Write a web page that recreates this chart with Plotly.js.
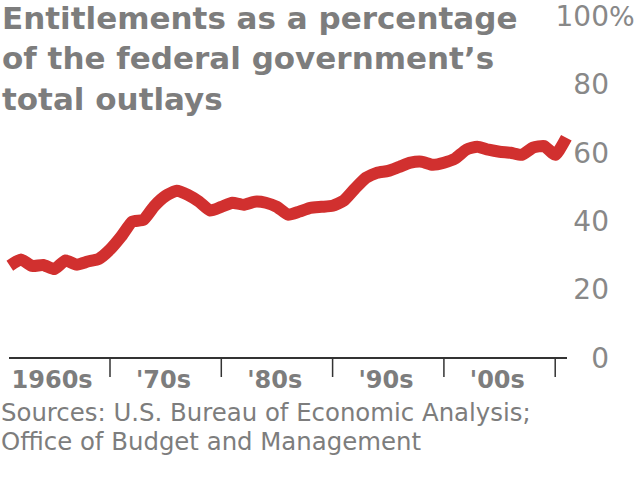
<!DOCTYPE html>
<html><head><meta charset="utf-8">
<script src="https://cdn.plot.ly/plotly-3.0.1.min.js"></script>
<style>html,body{margin:0;padding:0;background:#fff}#chart{width:641px;height:484px}</style>
</head><body><div id="chart"></div>
<script>
const years = [1961,1962,1963,1964,1965,1966,1967,1968,1969,1970,
  1971,1972,1973,1974,1975,1976,1977,1978,1979,1980,
  1981,1982,1983,1984,1985,1986,1987,1988,1989,1990,
  1991,1992,1993,1994,1995,1996,1997,1998,1999,2000,
  2001,2002,2003,2004,2005,2006,2007,2008,2009,2010,2011];
const share = [27.0,28.8,26.9,27.2,26.0,28.5,27.3,28.2,29.0,31.7,
  35.5,39.9,40.4,44.5,47.4,48.9,47.7,45.7,43.1,44.2,
  45.4,44.8,45.7,45.4,44.2,41.9,42.8,43.9,44.2,44.5,
  46.0,49.5,52.7,54.2,54.7,55.9,57.1,57.4,56.5,57.1,
  58.3,60.9,61.8,60.9,60.3,60.0,59.4,61.5,62.0,59.4,64.4];
const decadeTicks = [1970,1980,1990,2000,2010];
const decadeLabelPos = [1964.8,1974.8,1984.8,1994.8,2004.8];
const decadeLabels = ['1960s',"'70s","'80s","'90s","'00s"];
const yTicks = [0,20,40,60,80,100];
const yLabels = ['0','20','40','60','80','100'];
const titleText = 'Entitlements as a percentage<br>of the federal government\u2019s<br>total outlays';
const source1 = 'Sources: U.S. Bureau of Economic Analysis;';
const source2 = 'Office of Budget and Management';

(function () {
const W = 641, H = 484, plotTop = 16, plotBottom = 358;
const ph = plotBottom - plotTop;
const xRange = [1960.117, 2017.708];
const py = p => (plotBottom - p) / ph;   // pixel row -> paper y
const px = p => p / W;                   // pixel col -> paper x

const grey = '#7d7d7d';
const trace = {
  x: years, y: share, type: 'scatter', mode: 'lines',
  line: {color: '#d1302f', width: 12, shape: 'spline', smoothing: 0.5},
  hoverinfo: 'skip'
};
const tickShapes = decadeTicks.map(d => ({type: 'line', xref: 'x', yref: 'paper',
  x0: d, x1: d, y0: 0, y1: -19 / ph, line: {color: '#333', width: 1.5}}));
const layout = {
  width: W, height: H,
  margin: {l: 0, r: 0, t: plotTop, b: H - plotBottom, pad: 0},
  paper_bgcolor: '#fff', plot_bgcolor: '#fff',
  showlegend: false,
  xaxis: {range: xRange, tickvals: decadeLabelPos, ticktext: decadeLabels,
    ticks: '', showline: false, showgrid: false, zeroline: false, fixedrange: true,
    ticklabelstandoff: 5,
    tickfont: {family: 'DejaVu Sans', size: 24, color: grey, weight: 'bold'}},
  yaxis: {range: [0, 100], tickvals: yTicks, ticktext: yLabels, anchor: 'free',
    position: px(609), side: 'left', ticks: '', showline: false, showgrid: false,
    zeroline: false, fixedrange: true, ticklabeloverflow: 'allow',
    tickfont: {family: 'DejaVu Sans', size: 28, color: '#888'}},
  shapes: [{type: 'line', xref: 'paper', yref: 'paper', x0: px(9), x1: px(567), y0: 0, y1: 0,
    line: {color: '#333', width: 2}}].concat(tickShapes),
  annotations: [
    {text: titleText, xref: 'paper', yref: 'paper', x: 0, y: py(-2), xanchor: 'left', yanchor: 'top',
     align: 'left', showarrow: false,
     font: {family: 'DejaVu Sans', size: 31, color: grey, weight: 'bold'}},
    {text: '%', xref: 'paper', yref: 'y', x: px(607), y: 100, xanchor: 'left', yanchor: 'middle',
     showarrow: false, font: {family: 'DejaVu Sans', size: 27, color: '#888'}},
    {text: source1, xref: 'paper', yref: 'paper', x: 0, y: py(413), xanchor: 'left', yanchor: 'middle',
     showarrow: false, borderpad: 0, font: {family: 'DejaVu Sans', size: 24.4, color: grey}},
    {text: source2, xref: 'paper', yref: 'paper', x: 0, y: py(442), xanchor: 'left', yanchor: 'middle',
     showarrow: false, borderpad: 0, font: {family: 'DejaVu Sans', size: 24.4, color: grey}}
  ]
};
Plotly.newPlot('chart', [trace], layout, {displayModeBar: false, staticPlot: true});
})();
</script></body></html>
